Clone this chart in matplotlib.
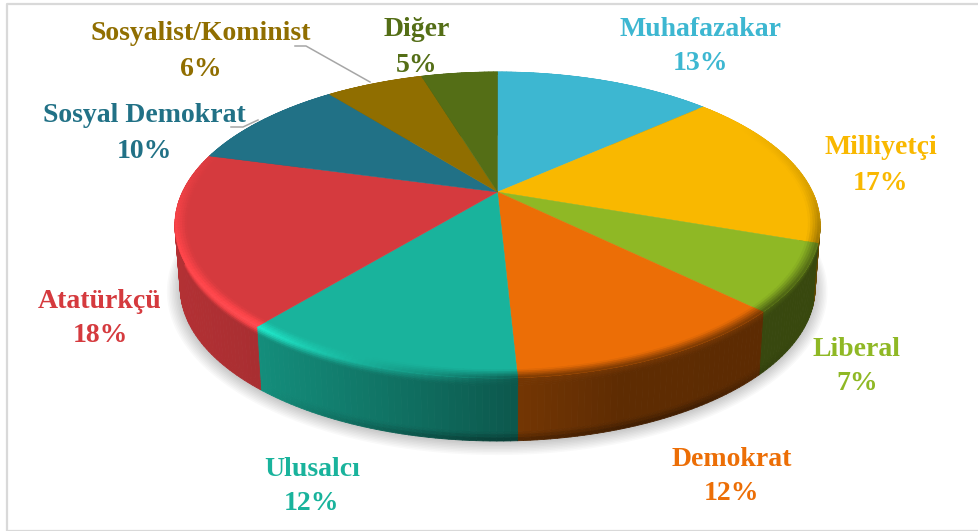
import numpy as np
import matplotlib
matplotlib.use('Agg')
import matplotlib.pyplot as plt
from matplotlib.collections import PolyCollection
from matplotlib.colors import to_rgb

names = ['Muhafazakar', 'Milliyetçi', 'Liberal', 'Demokrat', 'Ulusalcı',
         'Atatürkçü', 'Sosyal Demokrat', 'Sosyalist/Kominist', 'Diğer']
values = [13.4, 16.9, 7.0, 11.9, 11.8, 18.2, 10.1, 6.0, 4.7]
colors = ['#3DB7D1', '#F9B800', '#8FB825', '#EC6E06', '#19B39C',
          '#D53A3E', '#217186', '#906E00', '#546E16']

# label centres, in pixels of the picture (name, percent)
label_pos = [(701, 30, 64), (881, 148, 183), (857, 349, 384), (732, 460, 494),
             (312, 469, 504), (100, 301, 336), (144, 115, 151), (201, 34, 70),
             (417, 30, 65)]

# pie geometry: a circle seen in perspective
X0, Y0, A, B, K = 497.5, 192, 315, 145.9, 0.2157
DEPTH = 63
XB, SCALE_B = 510, 0.984

plt.rcParams['font.family'] = ['Liberation Serif', 'DejaVu Serif']


def project(theta, r=1.0):
    t = np.radians(theta)
    u = r * np.sin(t)
    v = r * np.cos(t)
    w = 1 + K * v
    return X0 + A * u / w, Y0 - B * v / w


def rim_gain(theta):
    # bevel is bright on the front left and dark on the right
    return np.interp(theta, [0, 60, 90, 110, 130, 177, 190, 220, 260, 290, 360],
                     [1, 1, .85, .6, .5, .5, .8, 1.35, 1.18, 1, 1])


def wall_shade(x):
    return np.interp(x, [175, 260, 517, 620, 820], [.84, .79, .49, .4, .39])


fig = plt.figure(figsize=(9.79, 5.31), dpi=100)
ax = fig.add_axes([0, 0, 1, 1])
ax.set_xlim(0, 979)
ax.set_ylim(531, 0)
ax.axis('off')

# frame
ax.plot([985, 7, 7, 985], [4, 4, 530.5, 530.5], color='#D9D9D9', lw=1.6, zorder=1)

# soft shadow under the pie
th = np.linspace(0, 360, 361)
sx, sy = project(th)
bx = XB + (sx - XB) * SCALE_B
by = sy + DEPTH
for grow in np.linspace(13, 1, 9):
    ax.fill(XB + (bx - XB) * (1 + grow / 320), 250 + (by - 250) * (1 + grow / 190) + 1,
            color='black', alpha=0.022, lw=0, zorder=2)

edges = np.cumsum([0] + values) / sum(values) * 360
bands = [0, .03, .06, .09, .12, .86, .9, .95, 1]
for i, c in enumerate(colors):
    base = np.array(to_rgb(c))
    angs = np.arange(edges[i], edges[i + 1] + 1, 1.0)
    angs[-1] = edges[i + 1]

    # side wall
    polys, faces = [], []
    for a0, a1 in zip(angs[:-1], angs[1:]):
        x0, y0 = project(a0)
        x1, y1 = project(a1)
        xb0, xb1 = XB + (x0 - XB) * SCALE_B, XB + (x1 - XB) * SCALE_B
        g = rim_gain((a0 + a1) / 2)
        s = wall_shade((x0 + x1) / 2)
        dark = np.interp((x0 + x1) / 2, [260, 480, 700, 800], [0, .35, .35, 0])
        for t0, t1 in zip(bands[:-1], bands[1:]):
            tm = (t0 + t1) / 2
            if tm < .12:
                f = g + (s - g) * tm / .12
            elif tm > .86:
                f = s * (1 - dark * (tm - .86) / .14)
            else:
                f = s
            polys.append([(x0 + (xb0 - x0) * t0, y0 + DEPTH * t0),
                          (x1 + (xb1 - x1) * t0, y1 + DEPTH * t0),
                          (x1 + (xb1 - x1) * t1, y1 + DEPTH * t1),
                          (x0 + (xb0 - x0) * t1, y0 + DEPTH * t1)])
            faces.append(np.clip(base * f, 0, 1))
    ax.add_collection(PolyCollection(polys, facecolors=faces, edgecolors=faces,
                                     linewidths=0.6, zorder=3))

for i, c in enumerate(colors):
    base = np.array(to_rgb(c))
    angs = np.arange(edges[i], edges[i + 1] + 1, 1.0)
    angs[-1] = edges[i + 1]

    # top face
    px, py = project(angs)
    ax.fill(np.r_[X0, px], np.r_[Y0, py], color=c, lw=0.3, zorder=4)

    # bevel along the rim
    polys, faces = [], []
    radii = np.linspace(.965, 1, 6)
    for a0, a1 in zip(angs[:-1], angs[1:]):
        g = rim_gain((a0 + a1) / 2)
        for r0, r1 in zip(radii[:-1], radii[1:]):
            x00, y00 = project(a0, r0)
            x10, y10 = project(a1, r0)
            x11, y11 = project(a1, r1)
            x01, y01 = project(a0, r1)
            f = 1 + (g - 1) * ((r0 + r1) / 2 - .965) / .035
            polys.append([(x00, y00), (x10, y10), (x11, y11), (x01, y01)])
            faces.append(np.clip(base * f, 0, 1))
    ax.add_collection(PolyCollection(polys, facecolors=faces, edgecolors=faces,
                                     linewidths=0.4, zorder=5))

# leader lines
ax.plot([295, 306, 370], [46, 46, 82], color='#A6A6A6', lw=1.1, zorder=6)
ax.plot([231, 243, 258], [127, 127, 120], color='#A6A6A6', lw=1.1, zorder=6)

# labels
for name, v, c, (x, y1, y2) in zip(names, values, colors, label_pos):
    ax.text(x, y1, name, color=c, fontsize=20, fontweight='bold',
            ha='center', va='center', zorder=7)
    ax.text(x, y2, f'{v:.0f}%', color=c, fontsize=20, fontweight='bold',
            ha='center', va='center', zorder=7)

fig.savefig('out.png', dpi=100)
